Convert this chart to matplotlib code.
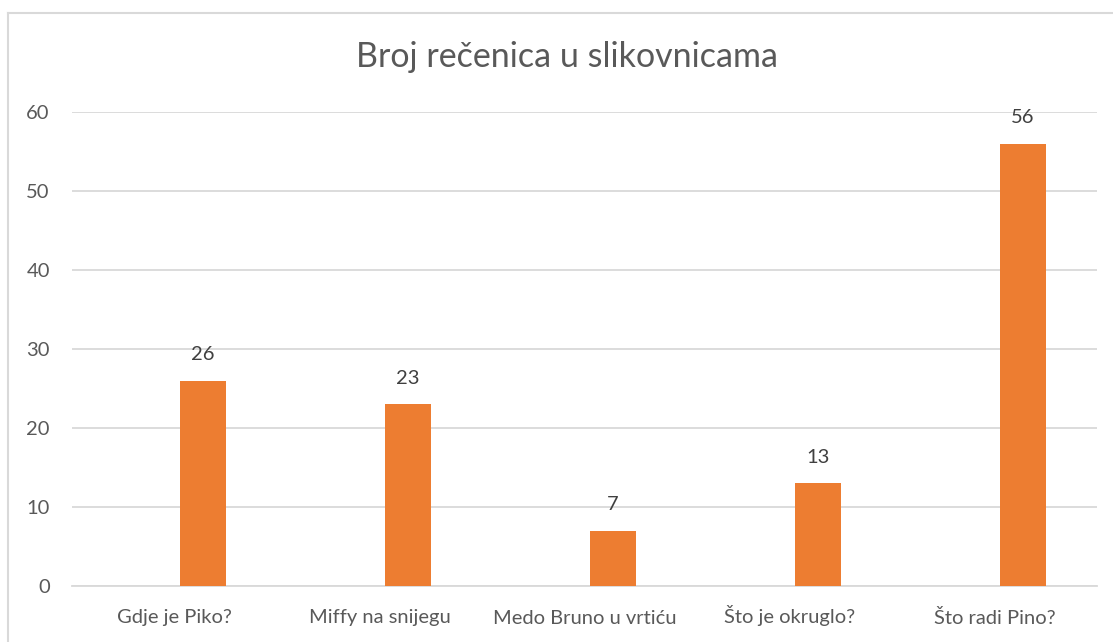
import matplotlib.pyplot as plt
from matplotlib.lines import Line2D

# data
categories = ['Gdje je Piko?', 'Miffy na snijegu', 'Medo Bruno u vrtiću',
              'Što je okruglo?', 'Što radi Pino?']
values = [26, 23, 7, 13, 56]
yticks = [0, 10, 20, 30, 40, 50, 60]

plt.rcParams['font.family'] = ['Lato', 'DejaVu Sans']

W, H = 1113, 642
fig = plt.figure(figsize=(W / 100, H / 100), dpi=100)
ax = fig.add_axes([72 / W, 1 - 586 / H, (1097 - 72) / W, (586 - 112) / H])

# outer chart border (cropped on right/bottom)
fig.add_artist(Line2D([8 / W, 8 / W], [0, 1 - 13 / H], transform=fig.transFigure,
                      color='#D9D9D9', lw=1.5))
fig.add_artist(Line2D([8 / W, 1], [1 - 13 / H, 1 - 13 / H], transform=fig.transFigure,
                      color='#D9D9D9', lw=1.5))

x = list(range(len(categories)))
xb = [i + 0.137 for i in x]
bars = ax.bar(xb, values, width=0.224, color='#ED7D31', zorder=3)
for b, v in zip(bars, values):
    ax.text(b.get_x() + b.get_width() / 2, v + 2.2, str(v), ha='center', va='bottom',
            fontsize=14.5, color='#404040', clip_on=False)

ax.set_xlim(-0.5, len(categories) - 0.5)
ax.set_ylim(0, 60)
ax.set_yticks(yticks)
ax.set_xticks(x)
ax.set_xticklabels(categories)
ax.yaxis.grid(True, color='#D9D9D9', lw=1.3, zorder=0)
ax.set_axisbelow(True)
for s in ['top', 'right', 'left']:
    ax.spines[s].set_visible(False)
ax.spines['bottom'].set_color('#D9D9D9')
ax.spines['bottom'].set_linewidth(1.3)
ax.tick_params(axis='both', length=0, labelsize=14.5, labelcolor='#595959')
ax.tick_params(axis='y', pad=16)
ax.tick_params(axis='x', pad=27)
for t in ax.get_xticklabels():
    t.set_verticalalignment('baseline')

fig.text(567 / W, 1 - 57 / H, 'Broj rečenica u slikovnicama', ha='center', va='center',
         fontsize=24.5, color='#595959')

fig.savefig('out.png', dpi=100)
